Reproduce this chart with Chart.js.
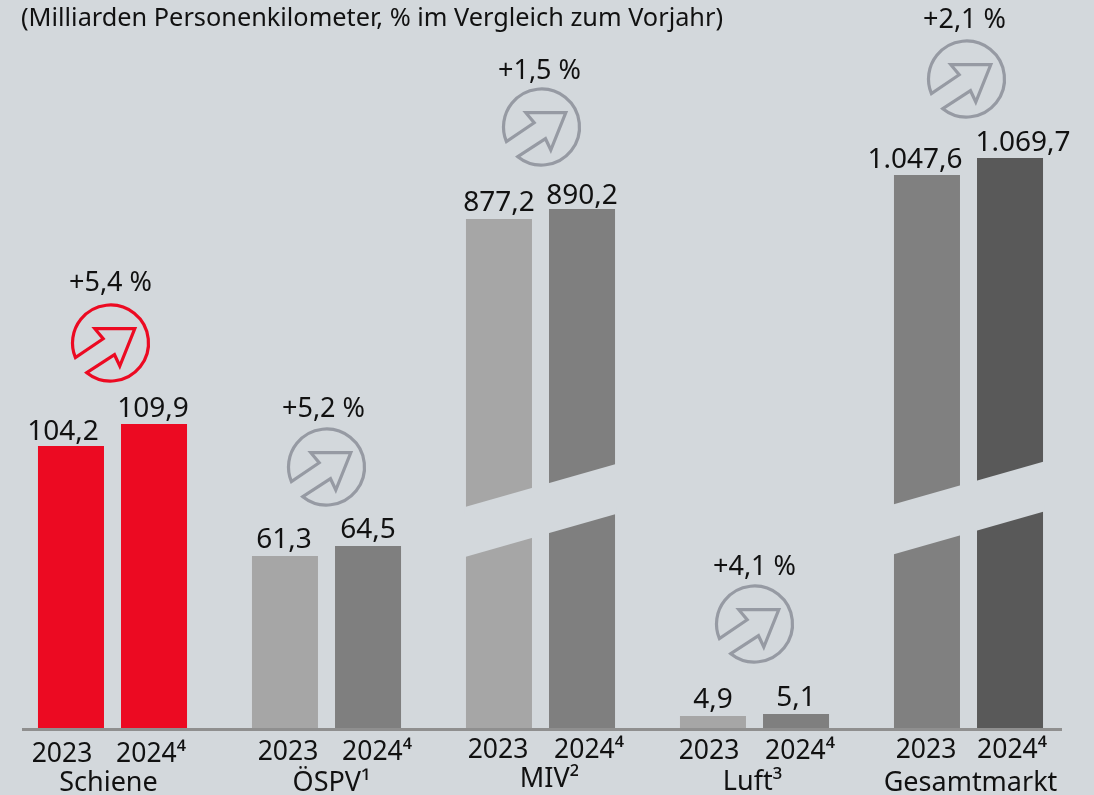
<!DOCTYPE html>
<html lang="de">
<head>
<meta charset="utf-8">
<title>Verkehrsleistung</title>
<style>
html,body{margin:0;padding:0;background:#d3d8dc;overflow:hidden}
#wrap{position:absolute;left:0;top:0;width:1094px;height:795px}
</style>
<script src="https://cdn.jsdelivr.net/npm/chart.js@4"></script>
</head>
<body>
<div id="wrap"><canvas id="c" width="1094" height="795"></canvas></div>
<script>
// ---- data ----
const titleText = '(Milliarden Personenkilometer, % im Vergleich zum Vorjahr)';
const categories = ['Schiene', 'ÖSPV¹', 'MIV²', 'Luft³', 'Gesamtmarkt'];
const yearLabels = ['2023', '2024⁴'];
const values2023 = [104.2, 61.3, 877.2, 4.9, 1047.6];
const values2024 = [109.9, 64.5, 890.2, 5.1, 1069.7];
const labels2023 = ['104,2', '61,3', '877,2', '4,9', '1.047,6'];
const labels2024 = ['109,9', '64,5', '890,2', '5,1', '1.069,7'];
const changes = ['+5,4 %', '+5,2 %', '+1,5 %', '+4,1 %', '+2,1 %'];

// ---- styles ----
const BG = '#d3d8dc', RED = '#ec0a22', RING_GREY = '#969aa3', INK = '#111111';
const colors2023 = [RED, '#a6a6a6', '#a6a6a6', '#a6a6a6', '#808080'];
const colors2024 = [RED, '#7f7f7f', '#7f7f7f', '#7f7f7f', '#595959'];
const ringColors = [RED, RING_GREY, RING_GREY, RING_GREY, RING_GREY];
const FONT = '"Noto Sans", sans-serif';

// Broken value axis: the source chart is not to scale, so the axis is piecewise.
const axisValues = [0, 4.9, 5.1, 61.3, 64.5, 104.2, 109.9, 877.2, 890.2, 1047.6, 1069.7, 1200];
const axisHeights = [0, 12, 14, 172, 182, 282, 304, 509, 519, 553, 570, 640];
const BASE_Y = 728;

class BrokenScale extends Chart.LinearScale {
  getPixelForValue(v) {
    let h = axisHeights[axisHeights.length - 1];
    for (let i = 1; i < axisValues.length; i++) {
      if (v <= axisValues[i]) {
        const t = (v - axisValues[i - 1]) / (axisValues[i] - axisValues[i - 1]);
        h = axisHeights[i - 1] + t * (axisHeights[i] - axisHeights[i - 1]);
        break;
      }
    }
    return this.bottom - h;
  }
}
BrokenScale.id = 'brokenLinear';
BrokenScale.defaults = Chart.LinearScale.defaults;
Chart.register(BrokenScale);

// ---- annotation layout (offsets from group / bar positions) ----
const valueLabelDx = [[-8, -1], [-1, 0], [0, 0], [0, 0], [-12, 13]];
const valueLabelY = [[440, 417], [548, 538], [211, 204], [708, 706], [168, 151]];
const yearDx = [[-9, -3], [3, 9], [-1, -1 + 8], [-4, 4], [-1, 2]];
const yearY = [762, 760, 758, 759, 758];
const nameDx = [-4, 5, 9, -2, 2];
const nameY = [791, 791, 787, 790, 791];
const changeDx = [-2, -3, -1, 0, -4];
const changeY = [291, 417, 79, 575, 28];
const ringY = [343, 467, 127, 624, 79];
const ringDx = [-2, 0, 1, 0, -2];
const breaks = [null, null, [507, 50], null, [504.5, 50]];
const SLOPE = -0.285;

function drawRing(ctx, cx, cy, color) {
  const r = 38;
  const a0 = Math.atan2(30, -24), a1 = Math.atan2(14.7, -35.3);
  ctx.save();
  ctx.translate(cx, cy);
  ctx.strokeStyle = color;
  ctx.lineWidth = 3.2;
  ctx.lineJoin = 'miter';
  ctx.beginPath();
  ctx.arc(0, 0, r, a0, a1, true);
  ctx.lineTo(-7.3, -4.3);
  ctx.lineTo(-15.7, -14.3);
  ctx.lineTo(24.3, -14.3);
  ctx.lineTo(9.3, 23);
  ctx.lineTo(4, 11.7);
  ctx.closePath();
  ctx.stroke();
  ctx.restore();
}

const annotate = {
  id: 'annotate',
  afterDatasetsDraw(chart) {
    const ctx = chart.ctx;
    const m0 = chart.getDatasetMeta(0).data, m1 = chart.getDatasetMeta(1).data;
    ctx.save();
    // slanted breaks over the tall bars
    categories.forEach((_, i) => {
      const b = breaks[i];
      if (!b) return;
      const x0 = m0[i].x - m0[i].width / 2 - 1, x1 = m1[i].x + m1[i].width / 2 + 1;
      const y1 = b[0] + SLOPE * (x1 - x0);
      ctx.fillStyle = BG;
      ctx.beginPath();
      ctx.moveTo(x0, b[0]);
      ctx.lineTo(x1, y1);
      ctx.lineTo(x1, y1 + b[1]);
      ctx.lineTo(x0, b[0] + b[1]);
      ctx.closePath();
      ctx.fill();
    });
    // baseline
    ctx.fillStyle = '#8f8f8f';
    ctx.fillRect(22, BASE_Y, 1040, 3);

    ctx.fillStyle = INK;
    ctx.textBaseline = 'alphabetic';
    ctx.textAlign = 'left';
    ctx.font = '25.3px ' + FONT;
    ctx.fillText(titleText, 21, 26);

    ctx.textAlign = 'center';
    categories.forEach((name, i) => {
      const gx = chart.scales.x.getPixelForValue(i);
      ctx.fillStyle = INK;
      ctx.font = '28px ' + FONT;
      ctx.fillText(labels2023[i], m0[i].x + valueLabelDx[i][0], valueLabelY[i][0]);
      ctx.fillText(labels2024[i], m1[i].x + valueLabelDx[i][1], valueLabelY[i][1]);
      ctx.font = '26.5px ' + FONT;
      ctx.fillText(yearLabels[0], m0[i].x + yearDx[i][0], yearY[i]);
      ctx.fillText(yearLabels[1], m1[i].x + yearDx[i][1], yearY[i]);
      ctx.font = '27px ' + FONT;
      ctx.fillText(name, gx + nameDx[i], nameY[i]);
      ctx.font = '27px ' + FONT;
      ctx.fillText(changes[i], gx + changeDx[i], changeY[i]);
      drawRing(ctx, gx + ringDx[i], ringY[i], ringColors[i]);
    });
    ctx.restore();
  }
};

new Chart(document.getElementById('c'), {
  type: 'bar',
  data: {
    labels: categories,
    datasets: [
      { label: '2023', data: values2023, backgroundColor: colors2023 },
      { label: '2024', data: values2024, backgroundColor: colors2024 }
    ]
  },
  options: {
    responsive: false,
    animation: false,
    events: [],
    categoryPercentage: 0.776,
    barPercentage: 0.795,
    layout: { padding: { left: 5.5, right: 18.5, top: 8, bottom: 0 } },
    plugins: { legend: { display: false }, tooltip: { enabled: false }, title: { display: false } },
    scales: {
      x: {
        display: true,
        grid: { display: false, drawTicks: false },
        border: { display: false },
        ticks: { display: false },
        afterFit(s) { s.height = 795 - BASE_Y; }
      },
      y: {
        type: 'brokenLinear',
        display: false,
        min: 0,
        max: 1200
      }
    }
  },
  plugins: [annotate]
});
</script>
</body>
</html>
